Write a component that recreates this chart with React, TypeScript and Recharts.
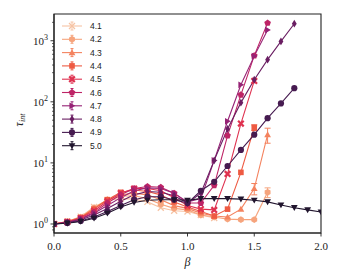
import { LineChart, Line, XAxis, YAxis, ErrorBar, ReferenceArea } from "recharts";

// beta grid shared by all series
const betas = [0, 0.1, 0.2, 0.3, 0.4, 0.5, 0.6, 0.7, 0.8, 0.9, 1.0, 1.1, 1.2, 1.3, 1.4, 1.5, 1.6, 1.7, 1.8, 1.9, 2.0];

const labels = ["4.1", "4.2", "4.3", "4.4", "4.5", "4.6", "4.7", "4.8", "4.9", "5.0"];
const colors = ["#f6c3a4", "#f6a47d", "#f4835f", "#ee5a42", "#df3250", "#be2466", "#962275", "#6a1e62", "#461b50", "#21152e"];
const markers = ["x", "hexagon", "triUp", "square", "xFilled", "pentagon", "triRight", "thinDiamond", "circle", "triDown"];

const tau41 = [1.0, 1.1, 1.32, 1.9, 2.45, 2.6, 2.55, 2.3, 1.85, 1.65, 1.6, 1.4, 1.25];
const tau42 = [1.0, 1.1, 1.3, 1.85, 2.5, 2.85, 2.9, 2.6, 2.1, 1.8, 1.7, 1.4, 1.3, 1.2, 1.18, 1.18, 3.3];
const tau43 = [1.0, 1.1, 1.28, 1.8, 2.5, 3.0, 3.2, 3.0, 2.5, 2.0, 1.8, 1.5, 1.35, 1.3, 1.75, 3.8, 29];
const tau44 = [1.0, 1.09, 1.27, 1.75, 2.5, 3.3, 3.6, 3.4, 3.0, 2.3, 1.9, 1.6, 1.35, 1.75, 7.0, 38];
const tau45 = [1.0, 1.08, 1.25, 1.65, 2.35, 3.2, 3.8, 3.8, 3.5, 2.7, 2.0, 1.75, 1.7, 6.6, 44, 220];
const tau46 = [1.0, 1.07, 1.22, 1.55, 2.2, 3.0, 3.8, 4.1, 4.0, 3.2, 2.2, 2.2, 4.3, 28, 130, 570, 1950];
const tau47 = [1.0, 1.06, 1.2, 1.5, 2.0, 2.7, 3.5, 3.9, 3.8, 3.2, 2.3, 2.6, 11, 48, 190, 560, 1500];
const tau48 = [1.0, 1.05, 1.16, 1.4, 1.8, 2.35, 3.0, 3.4, 3.3, 2.9, 2.2, 3.2, 11, 36, 97, 230, 490, 975, 1900];
const tau49 = [1.0, 1.04, 1.12, 1.3, 1.6, 2.0, 2.5, 2.8, 2.8, 2.5, 2.2, 3.5, 4.9, 8.9, 16.3, 29, 54, 94, 167];
const tau50 = [1.0, 1.03, 1.1, 1.24, 1.5, 1.9, 2.25, 2.45, 2.5, 2.5, 2.45, 2.6, 2.6, 2.6, 2.55, 2.45, 2.3, 2.05, 1.85, 1.7, 1.57];

// visible error bars (index into betas -> error)
const err42: Record<number, number> = { 16: 0.6 };
const err43: Record<number, number> = { 15: 0.8, 16: 8 };
const err44: Record<number, number> = { 15: 4 };

const allTau = [tau41, tau42, tau43, tau44, tau45, tau46, tau47, tau48, tau49, tau50];
const allErr: Record<number, number>[] = [{}, err42, err43, err44, {}, {}, {}, {}, {}, {}];

const xTicks = [0, 0.5, 1.0, 1.5, 2.0];
const yMajor = [1, 10, 100, 1000];
const yTicks = [0.8, 0.9, 1, 2, 3, 4, 5, 6, 7, 8, 9, 10, 20, 30, 40, 50, 60, 70, 80, 90, 100, 200, 300, 400, 500, 600, 700, 800, 900, 1000, 2000];

const rows = betas.map((b, i) => {
    const r: any = { beta: b };
    allTau.forEach((vals, k) => {
        if (i < vals.length) r["s" + k] = vals[i];
        if (allErr[k][i]) r["e" + k] = allErr[k][i];
    });
    return r;
});

const W = 330;
const H = 267;
const SERIF = "'Liberation Serif', 'Times New Roman', serif";
const INK = "#222";

const poly = (cx: number, cy: number, r: number, n: number, start: number) => {
    const pts = [];
    for (let i = 0; i < n; i++) {
        const a = ((start + (360 / n) * i) * Math.PI) / 180;
        pts.push(`${cx + r * Math.cos(a)},${cy + r * Math.sin(a)}`);
    }
    return pts.join(" ");
};

const Marker = ({ shape, cx, cy, color }: any) => {
    switch (shape) {
        case "x":
            return <path d={`M${cx - 3},${cy - 3}L${cx + 3},${cy + 3}M${cx - 3},${cy + 3}L${cx + 3},${cy - 3}`} stroke={color} strokeWidth={1.3} />;
        case "hexagon":
            return <polygon points={poly(cx, cy, 3.4, 6, 90)} fill={color} />;
        case "triUp":
            return <polygon points={poly(cx, cy + 0.6, 3.9, 3, -90)} fill={color} />;
        case "square":
            return <rect x={cx - 2.8} y={cy - 2.8} width={5.6} height={5.6} fill={color} />;
        case "xFilled":
            return <path d={`M${cx - 2.8},${cy - 2.8}L${cx + 2.8},${cy + 2.8}M${cx - 2.8},${cy + 2.8}L${cx + 2.8},${cy - 2.8}`} stroke={color} strokeWidth={2.2} />;
        case "pentagon":
            return <polygon points={poly(cx, cy, 3.5, 5, -90)} fill={color} />;
        case "triRight":
            return <polygon points={poly(cx - 0.6, cy, 3.9, 3, 0)} fill={color} />;
        case "thinDiamond":
            return <polygon points={`${cx},${cy - 3.9} ${cx + 2.4},${cy} ${cx},${cy + 3.9} ${cx - 2.4},${cy}`} fill={color} />;
        case "circle":
            return <circle cx={cx} cy={cy} r={3.1} fill={color} />;
        case "triDown":
            return <polygon points={poly(cx, cy - 0.6, 3.9, 3, 90)} fill={color} />;
    }
    return null;
};

const XTick = (props: any) => {
    const { x, y, payload } = props;
    return (
        <g>
            <line x1={x} x2={x} y1={y} y2={y + 3.5} stroke={INK} strokeWidth={0.9} />
            <text x={x} y={y + 17} textAnchor="middle" fontFamily={SERIF} fontSize={11} fill={INK}>
                {Number(payload.value).toFixed(1)}
            </text>
        </g>
    );
};

const YTick = (props: any) => {
    const { x, y, payload } = props;
    const v = payload.value;
    const major = yMajor.includes(v);
    const exp = Math.round(Math.log10(v));
    return (
        <g>
            <line x1={x} x2={x - (major ? 3.5 : 2)} y1={y} y2={y} stroke={INK} strokeWidth={major ? 0.9 : 0.7} />
            {major && (
                <text x={x - 6} y={y + 4} textAnchor="end" fontFamily={SERIF} fontSize={11} fill={INK}>
                    10<tspan dy={-5} fontSize={8}>{exp}</tspan>
                </text>
            )}
        </g>
    );
};

const App = () => {
    return (
        <div style={{ position: "relative", width: W, height: H }}>
            <LineChart width={W} height={H} data={rows} margin={{ top: 6, right: 17, bottom: 0, left: 0 }}>
                <XAxis
                    dataKey="beta"
                    type="number"
                    domain={[0, 2]}
                    ticks={xTicks}
                    interval={0}
                    height={42}
                    tickSize={0}
                    tickMargin={0}
                    tick={(p: any) => <XTick {...p} />}
                    axisLine={{ stroke: INK, strokeWidth: 1.1 }}
                    allowDataOverflow
                />
                <YAxis
                    type="number"
                    scale="log"
                    domain={[0.712, 2740]}
                    ticks={yTicks}
                    interval={0}
                    width={46}
                    tickSize={0}
                    tickMargin={0}
                    tick={(p: any) => <YTick {...p} />}
                    axisLine={{ stroke: INK, strokeWidth: 1.1 }}
                    allowDataOverflow
                />
                <ReferenceArea x1={0} x2={2} y1={0.712} y2={2740} fill="#ffffff" fillOpacity={0} stroke={INK} strokeWidth={1.1} strokeOpacity={1} />
                {labels.map((lab, k) => (
                    <Line
                        key={lab}
                        dataKey={"s" + k}
                        stroke={colors[k]}
                        strokeWidth={1.1}
                        isAnimationActive={false}
                        activeDot={false}
                        dot={(p: any) =>
                            p.cy == null || p.value == null ? (
                                <g key={p.index} />
                            ) : (
                                <g key={p.index}>
                                    <Marker shape={markers[k]} cx={p.cx} cy={p.cy} color={colors[k]} />
                                </g>
                            )
                        }
                    >
                        {Object.keys(allErr[k]).length > 0 && (
                            <ErrorBar dataKey={"e" + k} direction="y" width={3} stroke={colors[k]} strokeWidth={1} />
                        )}
                    </Line>
                ))}
            </LineChart>
            <svg width={W} height={H} style={{ position: "absolute", left: 0, top: 0, pointerEvents: "none" }}>
                {labels.map((lab, k) => {
                    const y = 18 + k * 13.3;
                    return (
                        <g key={lab}>
                            <line x1={54} x2={74} y1={y} y2={y} stroke={colors[k]} strokeWidth={1.1} />
                            <line x1={64} x2={64} y1={y - 4} y2={y + 4} stroke={colors[k]} strokeWidth={1} />
                            <line x1={62.5} x2={65.5} y1={y - 4} y2={y - 4} stroke={colors[k]} strokeWidth={1} />
                            <line x1={62.5} x2={65.5} y1={y + 4} y2={y + 4} stroke={colors[k]} strokeWidth={1} />
                            <Marker shape={markers[k]} cx={64} cy={y} color={colors[k]} />
                            <text x={82} y={y + 3} fontFamily="'Liberation Sans', Arial, sans-serif" fontSize={8.5} fill={INK}>
                                {lab}
                            </text>
                        </g>
                    );
                })}
                <text x={179.5} y={258} textAnchor="middle" fontFamily={SERIF} fontStyle="italic" fontSize={12} fill={INK}>
                    β
                </text>
                <text
                    x={15}
                    y={112}
                    transform="rotate(-90, 15, 112)"
                    textAnchor="middle"
                    fontFamily={SERIF}
                    fontStyle="italic"
                    fontSize={12}
                    fill={INK}
                >
                    τ<tspan dy={2} fontSize={8}>int</tspan>
                </text>
            </svg>
        </div>
    );
};

export default App;
